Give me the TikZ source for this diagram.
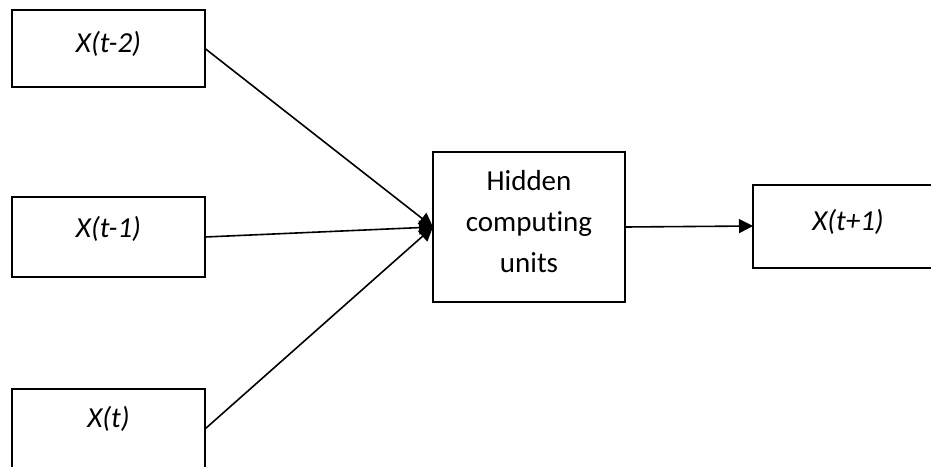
\documentclass[tikz,border=0pt]{standalone}
\usepackage{fontspec}
\setmainfont{Carlito}[Ligatures=NoCommon]
\usetikzlibrary{arrows.meta}
\begin{document}
\begin{tikzpicture}[x=1pt,y=-1pt,
  box/.style={draw=black,line width=2pt,fill=none,inner sep=0pt,outer sep=0pt},
  lbl/.style={anchor=base,inner sep=0pt,font=\fontsize{29}{41}\selectfont\itshape},
  txt/.style={anchor=base,inner sep=0pt,align=center,font=\fontsize{29}{41}\selectfont},
  link/.style={line width=1.6pt,-{Triangle[length=14pt,width=14pt]}}]
\useasboundingbox (0,0) rectangle (931,466);
% input boxes
\node[box,minimum width=193pt,minimum height=77pt] (b1) at (108.5,48.5) {};
\node[box,minimum width=193pt,minimum height=80pt] (b2) at (108.5,237) {};
\node[box,minimum width=193pt,minimum height=80pt] (b3) at (108.5,429) {};
% hidden layer and output
\node[box,minimum width=192pt,minimum height=150pt] (hid) at (529,227) {};
\node[box,minimum width=190pt,minimum height=83pt] (out) at (848,226) {};
% labels
\node[lbl] (t1) at (108.5,52) {X(t-2)};
\node[lbl] (t2) at (108.5,237) {X(t-1)};
\node[lbl] (t3) at (108.5,427) {X(t)};
\node[lbl] (t4) at (848,230) {X(t+1)};
\node[txt] (th) at (529,272) {Hidden\\computing\\units};
% connections
\draw[link] (b1.east) -- (hid.west);
\draw[link] (b2.east) -- (hid.west);
\draw[link] (b3.east) -- (hid.west);
\draw[link] (hid.east) -- (out.west);
\end{tikzpicture}
\end{document}
